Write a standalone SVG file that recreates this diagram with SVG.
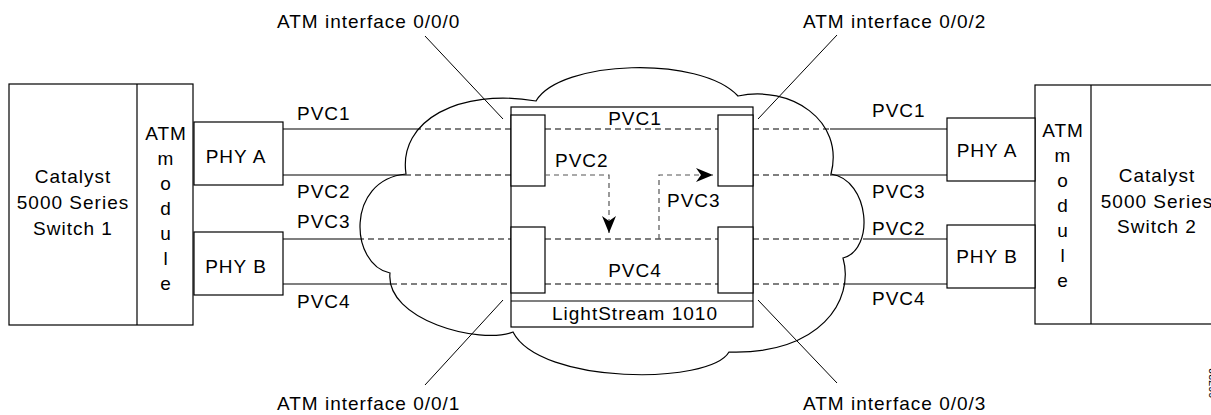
<svg xmlns="http://www.w3.org/2000/svg" width="1211" height="415" viewBox="0 0 1211 415">
<style>
  text { font-family: "Liberation Sans", Arial, sans-serif; font-size: 19px; letter-spacing: 1px; fill: #000; }
  .c { text-anchor: middle; }
  .box { fill: #fff; stroke: #000; stroke-width: 1.2; }
  .solid { stroke: #000; stroke-width: 1.2; fill: none; }
  .dash { stroke: #000; stroke-width: 1.2; stroke-dasharray: 6 4; fill: none; }
  .gdash { stroke: #555; stroke-width: 1.2; stroke-dasharray: 5 4; fill: none; }
  .lead { stroke: #000; stroke-width: 1; fill: none; }
  .cloud { fill: #fff; stroke: #000; stroke-width: 1.2; }
</style>
<defs>
  <marker id="arr" markerUnits="userSpaceOnUse" markerWidth="18" markerHeight="14" refX="17" refY="7" orient="auto">
    <path d="M0,0 L17,7 L0,14 L5,7 Z" fill="#000"/>
  </marker>
</defs>

<g id="cloud">
  <path class="cloud" d="M406,174 C398,120 460,88 536,101 C560,60 700,55 738,96 C790,85 845,120 831,174 C870,180 875,250 843,258 C855,300 820,355 729,352 C710,385 540,385 513,332 C480,345 385,320 390,273 C350,265 345,180 406,174 Z"/>
</g>

<g id="switch1">
  <rect class="box" x="9" y="84" width="184" height="241"/>
  <line class="solid" x1="137" y1="84" x2="137" y2="325"/>
  <text class="c" x="73" y="183">Catalyst</text>
  <text class="c" x="73" y="209">5000 Series</text>
  <text class="c" x="73" y="235">Switch 1</text>
  <text class="c" x="166" y="140">ATM</text>
  <text class="c" x="166" y="165">m</text>
  <text class="c" x="166" y="190">o</text>
  <text class="c" x="166" y="215">d</text>
  <text class="c" x="166" y="240">u</text>
  <text class="c" x="166" y="265">l</text>
  <text class="c" x="166" y="290">e</text>
</g>
<g id="phyA1">
  <rect class="box" x="194" y="122" width="89" height="63"/>
  <text class="c" x="236" y="163">PHY A</text>
</g>
<g id="phyB1">
  <rect class="box" x="194" y="232" width="89" height="63"/>
  <text class="c" x="236" y="273">PHY B</text>
</g>

<g id="switch2">
  <rect class="box" x="1035" y="85" width="200" height="239"/>
  <line class="solid" x1="1091" y1="85" x2="1091" y2="324"/>
  <text class="c" x="1157" y="182">Catalyst</text>
  <text class="c" x="1157" y="208">5000 Series</text>
  <text class="c" x="1157" y="233">Switch 2</text>
  <text class="c" x="1063" y="137">ATM</text>
  <text class="c" x="1063" y="162">m</text>
  <text class="c" x="1063" y="187">o</text>
  <text class="c" x="1063" y="212">d</text>
  <text class="c" x="1063" y="237">u</text>
  <text class="c" x="1063" y="262">l</text>
  <text class="c" x="1063" y="287">e</text>
</g>
<g id="phyA2">
  <rect class="box" x="947" y="118" width="88" height="63"/>
  <text class="c" x="987" y="157">PHY A</text>
</g>
<g id="phyB2">
  <rect class="box" x="947" y="225" width="88" height="63"/>
  <text class="c" x="987" y="263">PHY B</text>
</g>

<g id="lightstream">
  <rect class="box" x="511" y="107" width="242" height="220"/>
  <line class="solid" x1="511" y1="301" x2="753" y2="301"/>
  <rect class="box" x="511" y="115" width="34" height="71"/>
  <rect class="box" x="511" y="227" width="34" height="66"/>
  <rect class="box" x="718" y="115" width="35" height="71"/>
  <rect class="box" x="718" y="227" width="35" height="66"/>
  <text class="c" x="635" y="125">PVC1</text>
  <text class="c" x="635" y="277">PVC4</text>
  <text class="c" x="635" y="320">LightStream 1010</text>
</g>

<g id="connectors">
  <!-- left solid -->
  <line class="solid" x1="283" y1="129" x2="415" y2="129"/>
  <line class="solid" x1="283" y1="175" x2="405" y2="175"/>
  <line class="solid" x1="283" y1="239" x2="358" y2="239"/>
  <line class="solid" x1="283" y1="284" x2="391" y2="284"/>
  <!-- left dashed -->
  <line class="dash" x1="415" y1="129" x2="511" y2="129"/>
  <line class="dash" x1="405" y1="175" x2="511" y2="175"/>
  <line class="dash" x1="358" y1="239" x2="511" y2="239"/>
  <line class="dash" x1="391" y1="284" x2="511" y2="284"/>
  <!-- inside -->
  <line class="dash" x1="545" y1="129" x2="718" y2="129"/>
  <line class="dash" x1="545" y1="239" x2="718" y2="239"/>
  <line class="dash" x1="545" y1="284" x2="718" y2="284"/>
  <path class="gdash" d="M545,175 H609 V233" marker-end="url(#arr)"/>
  <path class="gdash" d="M659,239 V175 H713" marker-end="url(#arr)"/>
  <!-- right dashed -->
  <line class="dash" x1="753" y1="129" x2="830" y2="129"/>
  <line class="dash" x1="753" y1="175" x2="830" y2="175"/>
  <line class="dash" x1="753" y1="239" x2="864" y2="239"/>
  <line class="dash" x1="753" y1="284" x2="847" y2="284"/>
  <!-- right solid -->
  <line class="solid" x1="830" y1="129" x2="947" y2="129"/>
  <line class="solid" x1="830" y1="175" x2="947" y2="175"/>
  <line class="solid" x1="864" y1="239" x2="947" y2="239"/>
  <line class="solid" x1="847" y1="284" x2="947" y2="284"/>
  <!-- leaders -->
  <line class="lead" x1="425" y1="36" x2="503" y2="119"/>
  <line class="lead" x1="837" y1="35" x2="758" y2="119"/>
  <line class="lead" x1="425" y1="385" x2="503" y2="300"/>
  <line class="lead" x1="837" y1="383" x2="758" y2="300"/>
</g>

<g id="labels">
  <text x="297" y="120">PVC1</text>
  <text x="297" y="198">PVC2</text>
  <text x="297" y="228">PVC3</text>
  <text x="297" y="308">PVC4</text>
  <text x="872" y="117">PVC1</text>
  <text x="872" y="198">PVC3</text>
  <text x="872" y="235">PVC2</text>
  <text x="872" y="305">PVC4</text>
  <text x="555" y="167">PVC2</text>
  <text x="667" y="207">PVC3</text>
  <text x="277" y="28">ATM interface 0/0/0</text>
  <text x="803" y="28">ATM interface 0/0/2</text>
  <text x="277" y="410">ATM interface 0/0/1</text>
  <text x="803" y="410">ATM interface 0/0/3</text>
  <text transform="translate(1217,368) rotate(-90)" style="font-size:11px;letter-spacing:0;text-anchor:end">66739</text>
</g>
</svg>
